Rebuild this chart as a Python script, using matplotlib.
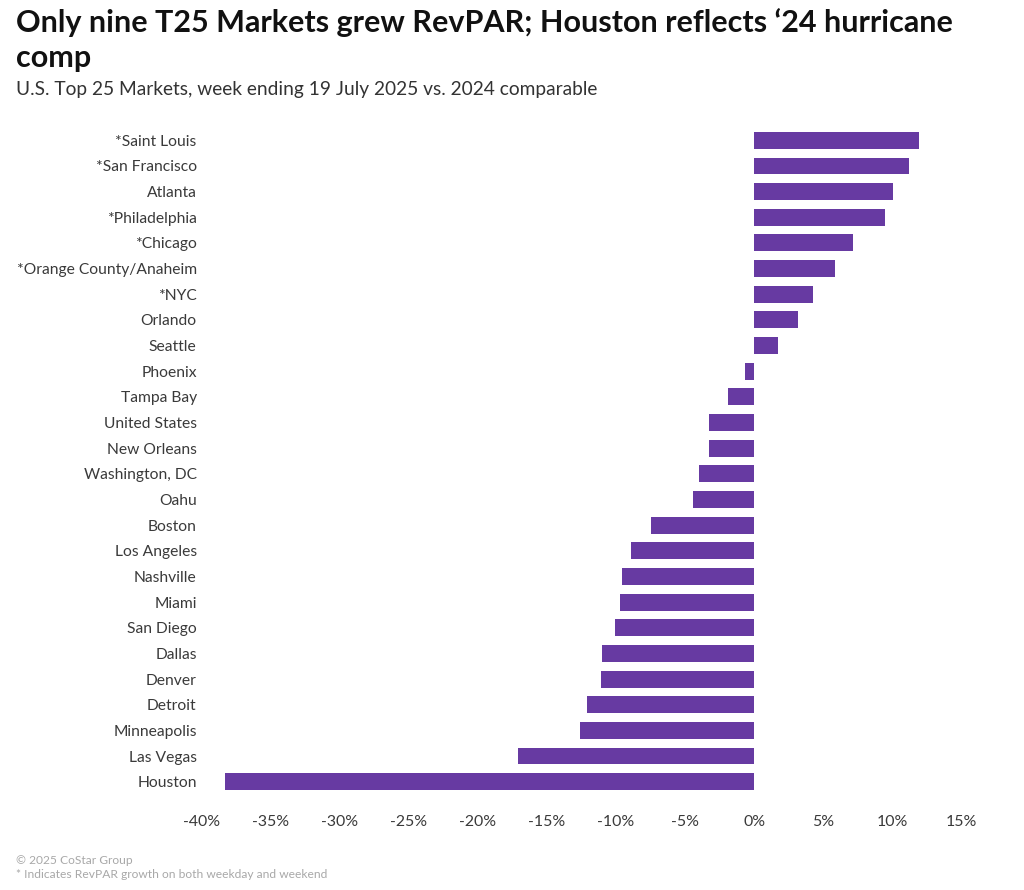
import matplotlib
matplotlib.use('Agg')
import matplotlib.pyplot as plt
import numpy as np

# Market names, top to bottom
markets = ['*Saint Louis', '*San Francisco', 'Atlanta', '*Philadelphia', '*Chicago',
           '*Orange County/Anaheim', '*NYC', 'Orlando', 'Seattle', 'Phoenix',
           'Tampa Bay', 'United States', 'New Orleans', 'Washington, DC', 'Oahu',
           'Boston', 'Los Angeles', 'Nashville', 'Miami', 'San Diego',
           'Dallas', 'Denver', 'Detroit', 'Minneapolis', 'Las Vegas', 'Houston']
# RevPAR change in percent
revpar_change = [11.9, 11.2, 10.05, 9.45, 7.15, 5.85, 4.25, 3.15, 1.7, -0.7,
                 -1.9, -3.3, -3.3, -4.0, -4.4, -7.5, -8.9, -9.6, -9.7, -10.1,
                 -11.0, -11.1, -12.1, -12.6, -17.1, -38.3]
x_ticks = [-40, -35, -30, -25, -20, -15, -10, -5, 0, 5, 10, 15]

plt.rcParams['font.family'] = ['Lato', 'DejaVu Sans']

fig = plt.figure(figsize=(10.24, 8.9), dpi=100)
# axes spans x=201.5..961.5 px, y=127.5..794.5 px
ax = fig.add_axes([201.5 / 1024, 1 - 794.5 / 890, 760 / 1024, 667 / 890])

y = np.arange(len(markets))
ax.barh(y, revpar_change, height=0.66, color='#673AA2')

ax.set_xlim(-40, 15)
ax.set_ylim(len(markets) - 0.5, -0.5)
ax.set_yticks(y, markets)
ax.set_xticks(x_ticks, [f'{t}%' for t in x_ticks])
ax.tick_params(axis='x', length=0, labelsize=11.4, labelcolor='#3a3a3a', pad=15)
ax.tick_params(axis='y', length=0, labelsize=11.25, labelcolor='#3a3a3a', pad=3.5)
for s in ax.spines.values():
    s.set_visible(False)

fig.text(16 / 1024, 1 - 23 / 890, 'Only nine T25 Markets grew RevPAR; Houston reflects ‘24 hurricane',
         fontsize=21.95, fontweight='bold', color='#111111', va='center')
fig.text(16 / 1024, 1 - 58 / 890, 'comp', fontsize=21.95, fontweight='bold', color='#111111', va='center')
fig.text(16 / 1024, 1 - 89 / 890, 'U.S. Top 25 Markets, week ending 19 July 2025 vs. 2024 comparable',
         fontsize=13.8, color='#333333', va='center')
fig.text(16 / 1024, 1 - 860 / 890, '© 2025 CoStar Group', fontsize=8.65, color='#a8a8a8', va='center')
fig.text(16 / 1024, 1 - 875 / 890, '* Indicates RevPAR growth on both weekday and weekend',
         fontsize=8.65, color='#a8a8a8', va='center')

fig.savefig('out.png', dpi=100)
